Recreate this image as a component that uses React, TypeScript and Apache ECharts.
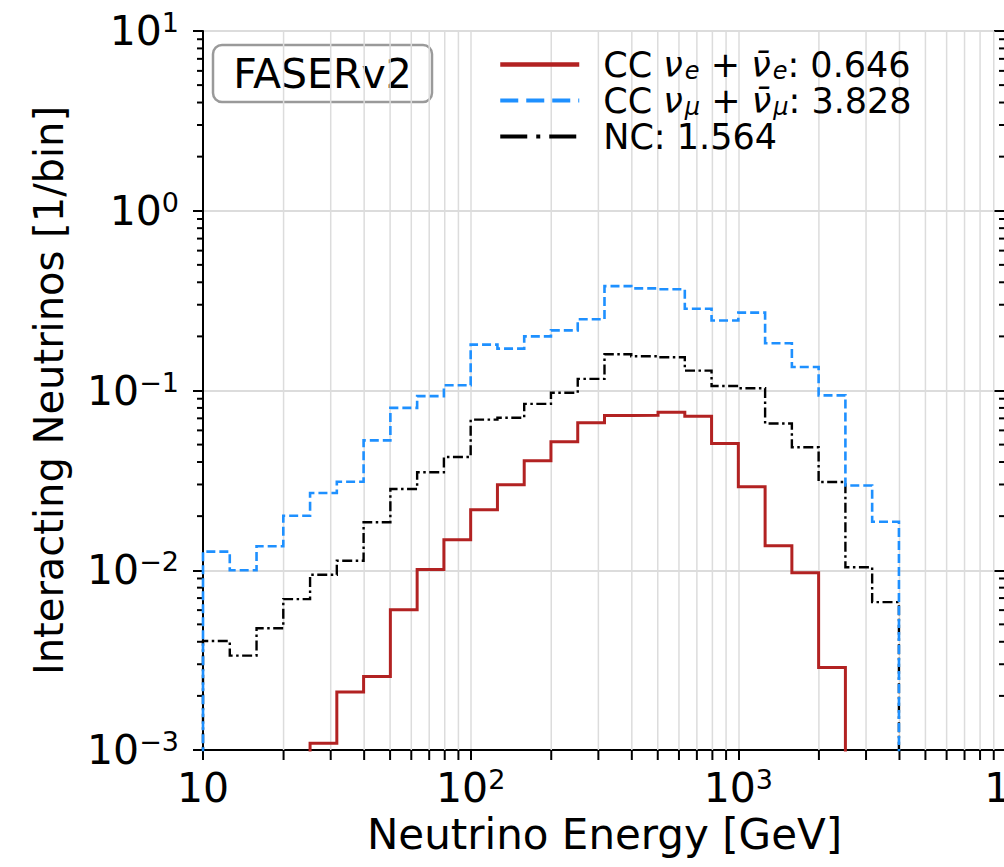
import React, { useEffect, useRef } from 'react';
import * as echarts from 'echarts';

// ---- data ----
const binEdges = [
  10, 12.59, 15.85, 19.95, 25.12, 31.62, 39.81, 50.12, 63.1, 79.43,
  100, 125.9, 158.5, 199.5, 251.2, 316.2, 398.1, 501.2, 631.0, 794.3,
  1000, 1259, 1585, 1995, 2512, 3162, 3981,
];

const ccNuE = [
  0, 0, 0, 0, 0.00109, 0.0021, 0.00256, 0.00603, 0.0101, 0.0148,
  0.0217, 0.0299, 0.0407, 0.0518, 0.0661, 0.0726, 0.0729, 0.0757, 0.0719, 0.0507,
  0.0291, 0.0137, 0.0097, 0.00288, 0, 0,
];

const ccNuMu = [
  0.0127, 0.0100, 0.0136, 0.0201, 0.0269, 0.0311, 0.0528, 0.080, 0.093, 0.107,
  0.180, 0.171, 0.200, 0.216, 0.249, 0.381, 0.370, 0.366, 0.285, 0.245,
  0.271, 0.183, 0.135, 0.094, 0.0296, 0.0186,
];

const ncAll = [
  0.00404, 0.00335, 0.00476, 0.00691, 0.00944, 0.0113, 0.0185, 0.0283, 0.0351, 0.0427,
  0.0689, 0.0705, 0.0843, 0.0971, 0.116, 0.159, 0.155, 0.153, 0.129, 0.106,
  0.103, 0.0655, 0.0483, 0.031, 0.0104, 0.00665,
];

const seriesNames = ['CC νe + ν̄e: 0.646', 'CC νμ + ν̄μ: 3.828', 'NC: 1.564'];
const legendRichText = [
  '{p|CC }{i|ν}{s|e}{t| + }{i|ν̄}{s|e}{t|: 0.646}',
  '{p|CC }{i|ν}{s|μ}{t| + }{i|ν̄}{s|μ}{t|: 3.828}',
  '{p|NC: 1.564}',
];

const xTickValues = [10, 100, 1000, 10000];
const xTickBase = ['10', '10', '10', '10'];
const xTickExp = ['', '2', '3', '4'];

const yTickValues = [0.001, 0.01, 0.1, 1, 10];
const yTickBase = ['10', '10', '10', '10', '10'];
const yTickExp = ['−3', '−2', '−1', '0', '1'];

const boxLabel = 'FASERv2';
const xName = 'Neutrino Energy [GeV]';
const yName = 'Interacting Neutrinos [1/bin]';

// ---- helpers ----
const FONT = 'DejaVu Sans';
const GRID = '#dcdcdc';
const FLOOR = 1e-6; // stands for an empty bin on the log scale (drawn below the axis)

function histPoints(values: number[]): number[][] {
  const pts: number[][] = [[binEdges[0], FLOOR]];
  values.forEach((v, i) => {
    const y = v > 0 ? v : FLOOR;
    pts.push([binEdges[i], y]);
    pts.push([binEdges[i + 1], y]);
  });
  pts.push([binEdges[values.length], FLOOR]);
  return pts;
}

function tickLabel(v: number, vals: number[], base: string[], exp: string[], lastShift = false) {
  const idx = vals.findIndex((t) => Math.abs(Math.log10(t) - Math.log10(v)) < 1e-6);
  if (idx < 0) return '';
  const bStyle = lastShift && idx === vals.length - 1 ? 'bs' : 'b';
  return exp[idx] ? `{${bStyle}|${base[idx]}}{s|${exp[idx]}}` : `{${bStyle}|${base[idx]}}`;
}

const minorX: number[] = [];
[10, 100, 1000].forEach((d) => {
  for (let m = 2; m <= 9; m++) minorX.push(m * d);
});
const minorY: number[] = [];
[0.001, 0.01, 0.1, 1].forEach((d) => {
  for (let m = 2; m <= 9; m++) minorY.push(m * d);
});

const tickRich = {
  b: { fontSize: 41, fontFamily: FONT, color: '#000', lineHeight: 44 },
  bs: { fontSize: 41, fontFamily: FONT, color: '#000', lineHeight: 44, padding: [0, 0, 0, 26] },
  s: { fontSize: 27, fontFamily: FONT, color: '#000', lineHeight: 22, verticalAlign: 'top' },
};

export default function App() {
  const ref = useRef<HTMLDivElement>(null);

  useEffect(() => {
    if (!ref.current) return;
    const chart = echarts.init(ref.current, null, { renderer: 'svg' });

    const colors = ['#b22222', '#1e90ff', '#000000'];
    const widths = [3, 2.6, 2.4];
    const types: any[] = ['solid', [9, 4], [10, 3.5, 2.5, 3.5]];
    const legendWidths = [4.5, 4.2, 4.2];
    const legendTypes: any[] = ['solid', [18, 8], [27, 9, 4, 9]];
    const datasets = [ccNuE, ccNuMu, ncAll];

    const lineSeries = datasets.map((d, i) => ({
      type: 'line',
      name: seriesNames[i],
      data: histPoints(d),
      showSymbol: false,
      symbol: 'none',
      clip: true,
      z: 3 + (2 - i),
      silent: true,
      lineStyle: { color: colors[i], width: widths[i], type: types[i], join: 'miter', cap: 'butt' },
      itemStyle: { color: colors[i] },
    }));

    const option: any = {
      animation: false,
      grid: {
        left: 203,
        top: 31,
        width: 803,
        height: 719,
        outerBoundsMode: 'none',
        containLabel: false,
        show: true,
        borderColor: '#000',
        borderWidth: 2,
        backgroundColor: 'transparent',
      },
      legend: {
        data: seriesNames.map((n, i) => ({
          name: n,
          lineStyle: { width: legendWidths[i], type: legendTypes[i], color: colors[i] },
        })),
        orient: 'vertical',
        left: 498,
        top: 47,
        padding: 0,
        itemGap: 0,
        itemWidth: 79,
        itemHeight: 14,
        selectedMode: false,
        itemStyle: { opacity: 0, borderWidth: 0 },
        formatter: (name: string) => legendRichText[seriesNames.indexOf(name)],
        textStyle: {
          fontFamily: FONT,
          fontSize: 35,
          color: '#000',
          rich: {
            p: { fontSize: 35, fontFamily: FONT, color: '#000', lineHeight: 37, padding: [0, 0, 0, 19] },
            t: { fontSize: 35, fontFamily: FONT, color: '#000', lineHeight: 37 },
            i: { fontSize: 35, fontFamily: FONT, color: '#000', lineHeight: 37, fontStyle: 'italic' },
            s: { fontSize: 24, fontFamily: FONT, color: '#000', lineHeight: 16, verticalAlign: 'bottom', fontStyle: 'italic', padding: [0, 0, 0, 2] },
          },
        },
      },
      xAxis: {
        type: 'log',
        logBase: 10,
        min: 10,
        max: 10000,
        name: xName,
        nameLocation: 'middle',
        nameGap: 61,
        nameTextStyle: { fontFamily: FONT, fontSize: 42, color: '#000' },
        axisLine: { show: true, lineStyle: { color: '#000', width: 2 } },
        axisTick: { show: true, inside: false, length: 10, lineStyle: { color: '#000', width: 2 } },
        minorTick: { show: false },
        splitLine: { show: true, lineStyle: { color: GRID, width: 1.5 } },
        axisLabel: {
          margin: 16,
          formatter: (v: number) => tickLabel(v, xTickValues, xTickBase, xTickExp, true),
          rich: tickRich,
        },
      },
      yAxis: [
        {
          type: 'log',
          logBase: 10,
          min: 0.001,
          max: 10,
          position: 'left',
          name: yName,
          nameLocation: 'middle',
          nameGap: 134,
          nameTextStyle: { fontFamily: FONT, fontSize: 40, color: '#000' },
          axisLine: { show: true, lineStyle: { color: '#000', width: 2 } },
          axisTick: { show: true, inside: false, length: 10, lineStyle: { color: '#000', width: 2 } },
          minorTick: { show: false },
          splitLine: { show: true, lineStyle: { color: GRID, width: 1.8 } },
          axisLabel: {
            margin: 24,
            formatter: (v: number) => tickLabel(v, yTickValues, yTickBase, yTickExp),
            rich: tickRich,
          },
        },
        {
          type: 'log',
          logBase: 10,
          min: 0.001,
          max: 10,
          position: 'right',
          axisLine: { show: true, lineStyle: { color: '#000', width: 2 } },
          axisTick: { show: true, inside: true, length: 12, lineStyle: { color: '#000', width: 2 } },
          axisLabel: { show: false },
          splitLine: { show: false },
        },
      ],
      series: [
        {
          type: 'custom',
          silent: true,
          z: 1,
          data: minorX.map((v) => [v, 1]),
          renderItem: (params: any, api: any) => {
            const cs = params.coordSys;
            const x = api.coord([api.value(0), 1])[0];
            const bottom = cs.y + cs.height;
            return {
              type: 'group',
              children: [
                { type: 'line', shape: { x1: x, y1: cs.y, x2: x, y2: bottom }, style: { stroke: GRID, lineWidth: 1.5 } },
                { type: 'line', shape: { x1: x, y1: bottom, x2: x, y2: bottom + 10 }, style: { stroke: '#000', lineWidth: 2 } },
              ],
            };
          },
        },
        {
          type: 'custom',
          silent: true,
          z: 1,
          data: minorY.map((v) => [10, v]),
          renderItem: (params: any, api: any) => {
            const cs = params.coordSys;
            const y = api.coord([10, api.value(1)])[1];
            const right = cs.x + cs.width;
            return {
              type: 'group',
              children: [
                { type: 'line', shape: { x1: cs.x - 6, y1: y, x2: cs.x, y2: y }, style: { stroke: '#000', lineWidth: 2 } },
                { type: 'line', shape: { x1: right - 7, y1: y, x2: right, y2: y }, style: { stroke: '#000', lineWidth: 2 } },
              ],
            };
          },
        },
        ...lineSeries,
      ],
      graphic: [
        {
          type: 'group',
          z: 50,
          children: [
            {
              type: 'rect',
              shape: { x: 213, y: 45, width: 219, height: 57, r: 9 },
              style: { fill: '#ffffff', stroke: '#9a9a9a', lineWidth: 2.5 },
            },
            {
              type: 'text',
              style: {
                text: boxLabel,
                x: 322.5,
                y: 74,
                fontFamily: FONT,
                fontSize: 41,
                fill: '#000',
                textAlign: 'center',
                textVerticalAlign: 'middle',
              },
            },
          ],
        },
      ],
    };

    chart.setOption(option);
    return () => chart.dispose();
  }, []);

  return (
    <div
      ref={ref}
      style={{ position: 'fixed', left: 0, top: 0, width: 1004, height: 867, background: '#fff' }}
    />
  );
}
